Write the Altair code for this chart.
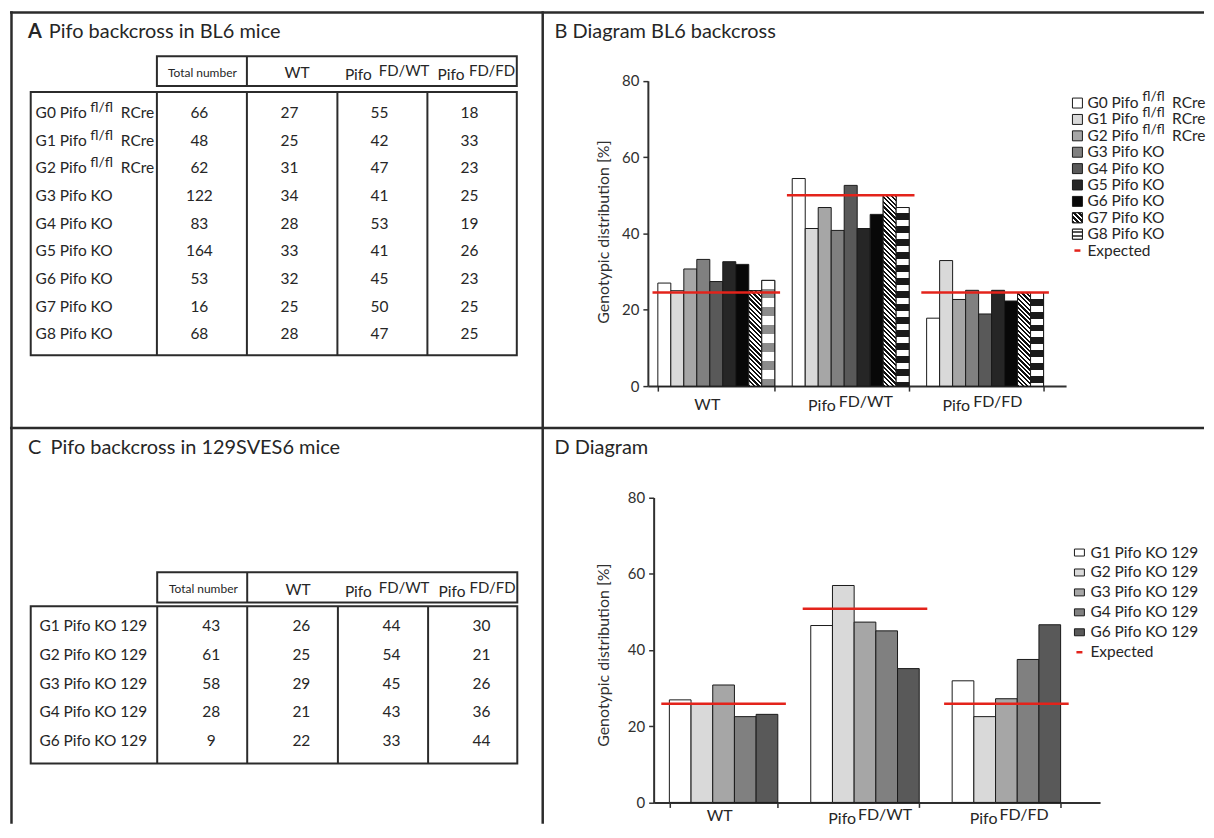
import altair as alt
import pandas as pd

FONT = "Lato"
TXT = "#262626"
INK = "#1a1a1a"
LINE = "#2b2b2b"
AXC = "#303030"
RED = "#e3231b"

# ---------------- data ----------------
GENOTYPES = ["WT", "FD/WT", "FD/FD"]
GENO_MAIN = ["WT", "Pifo", "Pifo"]
GENO_SUP = ["", "FD/WT", "FD/FD"]
TABLE_COLS = ["Total number", "WT", "FD/WT", "FD/FD"]
EXPECTED_LABEL = "Expected"
Y_TITLE = "Genotypic distribution [%]"

BL6_IDS = ["G0", "G1", "G2", "G3", "G4", "G5", "G6", "G7", "G8"]
BL6_BASE = ["G0 Pifo", "G1 Pifo", "G2 Pifo", "G3 Pifo KO", "G4 Pifo KO",
            "G5 Pifo KO", "G6 Pifo KO", "G7 Pifo KO", "G8 Pifo KO"]
BL6_SUP = ["fl/fl", "fl/fl", "fl/fl", "", "", "", "", "", ""]
BL6_TAIL = ["RCre", "RCre", "RCre", "", "", "", "", "", ""]
BL6_TOTAL = [66, 48, 62, 122, 83, 164, 53, 16, 68]
BL6_WT = [27, 25, 31, 34, 28, 33, 32, 25, 28]
BL6_FDWT = [55, 42, 47, 41, 53, 41, 45, 50, 47]
BL6_FDFD = [18, 33, 23, 25, 19, 26, 23, 25, 25]

B_WT = [27.0, 25.0, 30.7, 33.2, 27.4, 32.6, 31.9, 25.0, 27.7]
B_FDWT = [54.4, 41.3, 46.8, 40.8, 52.6, 41.3, 45.0, 50.0, 46.8]
B_FDFD = [17.8, 32.9, 22.7, 25.1, 18.9, 25.1, 22.3, 24.5, 24.5]
B_EXPECTED = [24.5, 50.0, 24.5]

S129_IDS = ["G1", "G2", "G3", "G4", "G6"]
S129_BASE = ["G1 Pifo KO 129", "G2 Pifo KO 129", "G3 Pifo KO 129",
             "G4 Pifo KO 129", "G6 Pifo KO 129"]
S129_SUP = ["", "", "", "", ""]
S129_TAIL = ["", "", "", "", ""]
S129_TOTAL = [43, 61, 58, 28, 9]
S129_WT = [26, 25, 29, 21, 22]
S129_FDWT = [44, 54, 45, 43, 33]
S129_FDFD = [30, 21, 26, 36, 44]

D_WT = [26.9, 25.9, 30.8, 22.5, 23.1]
D_FDWT = [46.4, 56.9, 47.3, 45.0, 35.1]
D_FDFD = [31.9, 22.5, 27.2, 37.5, 46.6]
D_EXPECTED = [25.9, 50.8, 25.9]

# ---------------- styles ----------------
B_FILLS = ["#ffffff", "#d9d9d9", "#a6a6a6", "#808080", "#595959",
           "#262626", "#080808", "#ffffff", "#ffffff"]
D_FILLS = ["#ffffff", "#d9d9d9", "#a6a6a6", "#808080", "#595959"]

ONE = pd.DataFrame({"k": [0]})

PW_L, PW_R = 535, 663
PH_T, PH_B = 418, 397


def hatch_grad(w, h, period=4.6, frac=0.5, ink="#111111", paper="#ffffff"):
    r = h / w
    D = w * (1 + r * r)
    span = w + h
    stops = []
    k = 0
    while k * period < span:
        a = min(k * period / D, 1.0)
        b = min((k + frac) * period / D, 1.0)
        c = min((k + 1) * period / D, 1.0)
        stops += [{"offset": a, "color": ink}, {"offset": b, "color": ink},
                  {"offset": b, "color": paper}, {"offset": c, "color": paper}]
        k += 1
    return {"gradient": "linear", "x1": 0, "y1": 1, "x2": 1, "y2": 1 - r, "stops": stops}


def band_grad(h, period, dark, ink, paper="#ffffff"):
    stops = []
    k = 0
    while k * period < h:
        a = min(k * period / h, 1.0)
        b = min((k * period + (period - dark)) / h, 1.0)
        c = min((k + 1) * period / h, 1.0)
        stops += [{"offset": a, "color": paper}, {"offset": b, "color": paper},
                  {"offset": b, "color": ink}, {"offset": c, "color": ink}]
        k += 1
    return {"gradient": "linear", "x1": 0, "y1": 0, "x2": 0, "y2": 1, "stops": stops}


def txt(text, x, y, size, align="left", baseline="alphabetic", weight="normal", color=TXT):
    return alt.Chart(ONE).mark_text(
        text=text, font=FONT, fontSize=size, align=align, baseline=baseline,
        fontWeight=weight, color=color).encode(x=alt.value(x), y=alt.value(y))


def hline(x0, x1, y, width=2.5, color=LINE):
    return alt.Chart(ONE).mark_rule(strokeWidth=width, color=color).encode(
        x=alt.value(x0), x2=alt.value(x1), y=alt.value(y))


def vline(x, y0, y1, width=2.5, color=LINE):
    return alt.Chart(ONE).mark_rule(strokeWidth=width, color=color).encode(
        x=alt.value(x), y=alt.value(y0), y2=alt.value(y1))


def box(x0, x1, y0, y1, width=2, color=LINE):
    return alt.Chart(ONE).mark_rect(fillOpacity=0, stroke=color, strokeWidth=width).encode(
        x=alt.value(x0), x2=alt.value(x1), y=alt.value(y0), y2=alt.value(y1))


def label_layers(ids, base, sup, tail, yscale, lab_x, sup_x, tail_x, size, sup_dy):
    lab = pd.DataFrame({"row": ids, "base": base, "sup": sup, "tail": tail})
    out = [alt.Chart(lab).mark_text(font=FONT, fontSize=size, align="left", baseline="middle",
                                    color=TXT).encode(
        x=alt.value(lab_x), y=alt.Y("row:N", scale=yscale, axis=None), text="base:N")]
    if any(sup):
        out.append(alt.Chart(lab).transform_filter("datum.sup != ''").mark_text(
            font=FONT, fontSize=size - 1.5, align="left", baseline="middle", dy=sup_dy,
            color=TXT).encode(x=alt.value(sup_x), y=alt.Y("row:N", scale=yscale, axis=None),
                              text="sup:N"))
        out.append(alt.Chart(lab).transform_filter("datum.tail != ''").mark_text(
            font=FONT, fontSize=size, align="left", baseline="middle", color=TXT).encode(
            x=alt.value(tail_x), y=alt.Y("row:N", scale=yscale, axis=None), text="tail:N"))
    return out


def table_layers(ids, base, sup, tail, cols_values, g):
    e = g["edges"]
    hy0, hy1 = g["head_y"]
    by0, by1 = g["body_y"]
    L = [box(e[1], e[-1], hy0, hy1), vline(e[2], hy0, hy1, 2),
         box(e[0], e[-1], by0, by1)]
    for xe in e[1:-1]:
        L.append(vline(xe, by0, by1, 2))
    L.append(txt(TABLE_COLS[0], g["h_total"][0], g["h_total"][1], 12, align="center"))
    L.append(txt(GENO_MAIN[0], g["h_wt"][0], g["h_wt"][1], 15.5, align="center"))
    for i in (1, 2):
        L.append(txt(GENO_MAIN[i], g["h_pifo_x"][i - 1], g["h_main_bl"], 15.5))
        L.append(txt(GENO_SUP[i], g["h_sup_x"][i - 1], g["h_sup_bl"], 15))
    yscale = alt.Scale(type="point", domain=ids, range=g["rows"], padding=0)
    L += label_layers(ids, base, sup, tail, yscale, g["lab_x"], g.get("sup_x", 0),
                      g.get("tail_x", 0), 15.5, -5)
    recs = []
    for c, vals in zip(TABLE_COLS, cols_values):
        for r, v in zip(ids, vals):
            recs.append({"row": r, "col": c, "val": str(v)})
    L.append(alt.Chart(pd.DataFrame(recs)).mark_text(
        font=FONT, fontSize=15.5, align="center", baseline="middle", color=TXT).encode(
        x=alt.X("col:N", scale=alt.Scale(type="point", domain=TABLE_COLS,
                                          range=g["vals_x"], padding=0), axis=None),
        y=alt.Y("row:N", scale=yscale, axis=None), text="val:N"))
    return L


def bar_layers(ids, base, sup, tail, values_by_geno, expected, fills, patterns, g, shape):
    n = len(ids)
    recs = [{"series": s, "genotype": geno, "value": v}
            for geno, vals in zip(GENOTYPES, values_by_geno) for s, v in zip(ids, vals)]
    df = pd.DataFrame(recs)
    y0, y80 = g["y_range"]
    x0, x1 = g["x_range"]

    def xs():
        return alt.Scale(type="band", domain=GENOTYPES, range=[x0, x1],
                         paddingInner=g["pi"], paddingOuter=g["po"], align=g["align"])

    def ys():
        return alt.Scale(domain=[0, 80], range=[y0, y80], nice=False)

    def xoff():
        return alt.XOffset("series:N", scale=alt.Scale(domain=ids, paddingInner=0,
                                                       paddingOuter=0))

    fill_scale = alt.Scale(domain=ids, range=fills)
    L = []
    L.append(alt.Chart(df).mark_bar(stroke=INK, strokeWidth=1).encode(
        x=alt.X("genotype:N", scale=xs(),
                axis=alt.Axis(title=None, labels=False, offset=-(g["H"] - y0),
                              tickBand="extent", tickSize=5, tickColor=AXC, tickWidth=1.5,
                              domainColor=AXC, domainWidth=2, grid=False)),
        xOffset=xoff(),
        y=alt.Y("value:Q", scale=ys(),
                axis=alt.Axis(values=[0, 20, 40, 60, 80], offset=g["y_off"], grid=False,
                              tickSize=5, tickColor=AXC, tickWidth=1.5, domainColor=AXC,
                              domainWidth=2, labelFontSize=15, labelColor=AXC,
                              labelFont=FONT, labelPadding=4, title=Y_TITLE,
                              titleFont=FONT, titleFontSize=16, titleFontWeight="normal",
                              titleColor=AXC, titleX=g["titleX"], titleY=g["titleY"],
                              titleAngle=270, titleAlign="center",
                              titleBaseline="middle")),
        fill=alt.Fill("series:N", scale=fill_scale, legend=None)))

    step = (x1 - x0) / (3 - g["pi"] + 2 * g["po"])
    bw = step * (1 - g["pi"]) / n
    ppu = (y0 - y80) / 80.0
    for sid, kind in patterns.items():
        k = ids.index(sid)
        for j, geno in enumerate(GENOTYPES):
            h = values_by_geno[j][k] * ppu
            if kind == "hatch":
                grad = hatch_grad(bw, h)
            elif geno == "WT":
                grad = band_grad(h, 18, 9, "#8c8c8c")
            else:
                grad = band_grad(h, 13, 7, "#1a1a1a")
            L.append(alt.Chart(df).transform_filter(
                f"datum.series == '{sid}' && datum.genotype == '{geno}'").mark_bar(
                fill=grad, stroke=INK, strokeWidth=1).encode(
                x=alt.X("genotype:N", scale=xs(), axis=None), xOffset=xoff(),
                y=alt.Y("value:Q", scale=ys(), axis=None)))

    exp_df = pd.DataFrame({"genotype": GENOTYPES, "value": expected})
    L.append(alt.Chart(exp_df).mark_tick(orient="horizontal", size=g["tick"], thickness=2.5,
                                         color=RED, opacity=1).encode(
        x=alt.X("genotype:N", scale=xs(), axis=None),
        y=alt.Y("value:Q", scale=ys(), axis=None)))

    lab_df = pd.DataFrame({"genotype": GENOTYPES, "main": GENO_MAIN, "sup": GENO_SUP})
    L.append(alt.Chart(lab_df).transform_filter("datum.sup == ''").mark_text(
        font=FONT, fontSize=16, align="center", baseline="alphabetic", dx=g["wt_dx"],
        color=TXT).encode(x=alt.X("genotype:N", scale=xs(), axis=None),
                          y=alt.value(g["wt_bl"]), text="main:N"))
    L.append(alt.Chart(lab_df).transform_filter("datum.sup != ''").mark_text(
        font=FONT, fontSize=16, align="right", baseline="alphabetic", dx=g["pifo_dx"],
        color=TXT).encode(x=alt.X("genotype:N", scale=xs(), axis=None),
                          y=alt.value(g["pifo_bl"]), text="main:N"))
    L.append(alt.Chart(lab_df).transform_filter("datum.sup != ''").mark_text(
        font=FONT, fontSize=16, align="left", baseline="alphabetic", dx=g["sup_dx"],
        color=TXT).encode(x=alt.X("genotype:N", scale=xs(), axis=None),
                          y=alt.value(g["sup_bl"]), text="sup:N"))

    # legend
    leg_ids = ids + [EXPECTED_LABEL]
    ls = alt.Scale(type="point", domain=leg_ids, range=g["leg_rows"], padding=0)
    leg_df = pd.DataFrame({"series": ids})
    L.append(alt.Chart(leg_df).mark_point(shape=shape, size=100, filled=True, stroke=INK,
                                          strokeWidth=1, opacity=1).encode(
        x=alt.value(g["sw_x"]), y=alt.Y("series:N", scale=ls, axis=None),
        fill=alt.Fill("series:N", scale=fill_scale, legend=None)))
    for sid, kind in patterns.items():
        grad = hatch_grad(10, 10, period=5) if kind == "hatch" else band_grad(10, 4, 2, "#555555")
        L.append(alt.Chart(leg_df).transform_filter(f"datum.series == '{sid}'").mark_point(
            shape=shape, size=100, filled=True, fill=grad, stroke=INK, strokeWidth=1,
            opacity=1).encode(x=alt.value(g["sw_x"]),
                              y=alt.Y("series:N", scale=ls, axis=None)))
    L += label_layers(leg_ids, base + [EXPECTED_LABEL], sup + [""], tail + [""], ls,
                      g["lt_x"], g.get("lsup_x", 0), g.get("ltail_x", 0), 15.5, -6)
    dash_df = pd.DataFrame({"series": [EXPECTED_LABEL]})
    L.append(alt.Chart(dash_df).mark_rule(color=RED, strokeWidth=2.5).encode(
        x=alt.value(g["dash"][0]), x2=alt.value(g["dash"][1]),
        y=alt.Y("series:N", scale=ls, axis=None)))
    return L


GA = dict(edges=[20.8, 147.4, 237.7, 328.5, 418.8, 508.5], head_y=(45, 75), body_y=(81, 345),
          rows=[102, 324], vals_x=[190, 461], lab_x=25.7, sup_x=80.6, tail_x=111.2,
          h_total=(193, 66), h_wt=(288, 67), h_pifo_x=[336, 429], h_sup_x=[370, 460.5],
          h_main_bl=69, h_sup_bl=65)
GC = dict(edges=[20.8, 147.7, 238, 329, 419.5, 509], head_y=(144.7, 175), body_y=(179, 336.7),
          rows=[199, 314], vals_x=[202, 473], lab_x=29.5,
          h_total=(194, 165.7), h_wt=(289, 167.3), h_pifo_x=[336, 430], h_sup_x=[370, 461],
          h_main_bl=169.7, h_sup_bl=165.7)
GB = dict(y_range=(376, 69.7), x_range=(105, 524.6), pi=0.130, po=0.1208, align=0.307, H=PH_T,
          y_off=-105, titleX=-44, titleY=221, tick=128, wt_dx=-9, wt_bl=400, pifo_dx=-15,
          pifo_bl=401, sup_dx=-12, sup_bl=397, sw_x=536, lt_x=546, lsup_x=601,
          ltail_x=631, leg_rows=[92, 240], dash=(533, 539))
GD = dict(y_range=(375.7, 69.7), x_range=(110.8, 558.7), pi=0.233, po=0.195, align=0.285,
          H=PH_B, y_off=-110.8, titleX=-49.9, titleY=227.5, tick=125, wt_dx=-4, wt_bl=394,
          pifo_dx=-9, pifo_bl=397, sup_dx=-7, sup_bl=393, sw_x=538, lt_x=549,
          leg_rows=[125, 225], dash=(535, 541))

# ---------------- panels ----------------
A_layers = [hline(0, PW_L, 1.2), vline(1.5, 0, PH_T), vline(534.5, 0, PH_T),
            hline(0, PW_L, PH_T),
            txt("A", 18, 27, 20, weight="bold"), txt("Pifo backcross in BL6 mice", 39, 27, 20)]
A_layers += table_layers(BL6_IDS, BL6_BASE, BL6_SUP, BL6_TAIL,
                         [BL6_TOTAL, BL6_WT, BL6_FDWT, BL6_FDFD], GA)
panelA = alt.layer(*A_layers).properties(width=PW_L, height=PH_T).resolve_scale(
    x="independent", y="independent")

B_layers = [hline(0, PW_R, 1.2), hline(0, PW_R, PH_T),
            txt("B Diagram BL6 backcross", 11.4, 27, 20)]
B_layers += bar_layers(BL6_IDS, BL6_BASE, BL6_SUP, BL6_TAIL, [B_WT, B_FDWT, B_FDFD],
                       B_EXPECTED, B_FILLS, {"G7": "hatch", "G8": "bands"}, GB, "square")
panelB = alt.layer(*B_layers).properties(width=PW_R, height=PH_T).resolve_scale(
    x="independent", y="independent")

C_layers = [vline(1.5, 0, PH_B), vline(534.5, 0, PH_B),
            txt("C", 18, 26, 20), txt("Pifo backcross in 129SVES6 mice", 40.7, 26, 20)]
C_layers += table_layers(S129_IDS, S129_BASE, S129_SUP, S129_TAIL,
                         [S129_TOTAL, S129_WT, S129_FDWT, S129_FDFD], GC)
panelC = alt.layer(*C_layers).properties(width=PW_L, height=PH_B).resolve_scale(
    x="independent", y="independent")

D_layers = [txt("D Diagram", 11.4, 25.7, 20)]
D_layers += bar_layers(S129_IDS, S129_BASE, S129_SUP, S129_TAIL, [D_WT, D_FDWT, D_FDFD],
                       D_EXPECTED, D_FILLS, {}, GD, "M-1,-0.7L1,-0.7L1,0.7L-1,0.7Z")
panelD = alt.layer(*D_layers).properties(width=PW_R, height=PH_B).resolve_scale(
    x="independent", y="independent")

chart = alt.concat(panelA, panelB, panelC, panelD, columns=2, spacing=0,
                   bounds="flush").resolve_scale(
    fill="independent", xOffset="independent").properties(padding=0).configure(
    font=FONT).configure_view(stroke=None)

chart.save("out.html", embed_options={"renderer": "svg", "actions": False})
